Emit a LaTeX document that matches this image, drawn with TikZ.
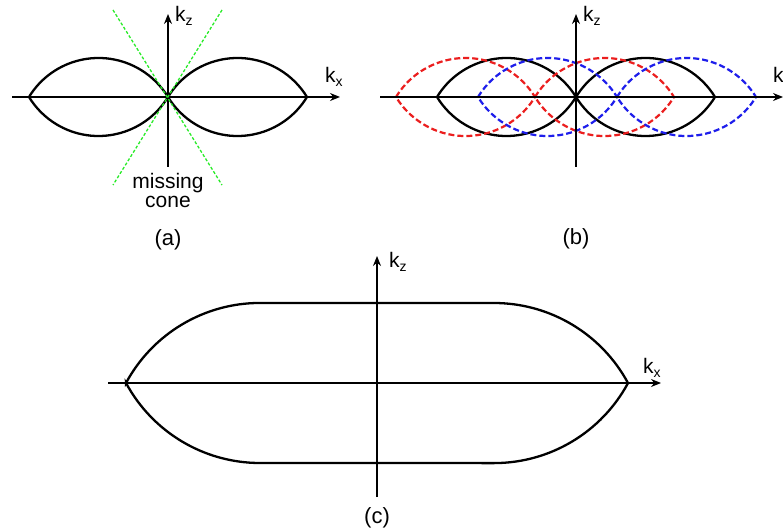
\documentclass[tikz,border=0pt]{standalone}
\usepackage{fontspec}
\setmainfont{Liberation Sans}
\usetikzlibrary{arrows.meta}
\newcommand\subtxt[1]{\raisebox{-4pt}{\fontsize{14}{14}\selectfont #1}}
\definecolor{cgreen}{RGB}{40,235,40}
\definecolor{cred}{RGB}{235,30,30}
\definecolor{cblue}{RGB}{30,30,235}
\tikzset{
  axis/.style={line width=1.4pt,-{Stealth[length=10pt,width=8pt]}},
  blk/.style={line width=2.3pt,black},
  redl/.style={line width=2.2pt,cred,dash pattern=on 6pt off 3pt},
  bluel/.style={line width=2.2pt,cblue,dash pattern=on 6pt off 3pt},
  conel/.style={line width=1.3pt,cgreen,dash pattern=on 3pt off 2pt},
  lbl/.style={inner sep=0pt,anchor=base,font=\fontsize{21}{24}\selectfont},
  captxt/.style={lbl,font=\fontsize{22}{24}\selectfont},
  lobe/.pic={\draw (-69.5,0) arc[start angle=148.6,end angle=31.4,radius=81.42]
                 arc[start angle=-31.4,end angle=-148.6,radius=81.42] -- cycle;},
}
\begin{document}
\begin{tikzpicture}[x=1pt,y=1pt]
\useasboundingbox (0,0) rectangle (783,528);
% ---------------- (a)
\coordinate (ax0) at (12,431); \coordinate (ax1) at (340,431);
\coordinate (az0) at (168,361); \coordinate (az1) at (168,514);
\coordinate (g1) at (113,518); \coordinate (g2) at (222,343);
\coordinate (g3) at (222,518); \coordinate (g4) at (113,343);
\pic[blk] at (98.5,431) {lobe};
\pic[blk] at (237.5,431) {lobe};
\draw[axis] (ax0) -- (ax1);
\draw[axis] (az0) -- (az1);
\draw[conel] (g1) -- (g2);
\draw[conel] (g3) -- (g4);
\node[lbl,anchor=base west] (kza) at (175,506) {k\subtxt{z}};
\node[lbl,anchor=base west] (kxa) at (325,445) {k\subtxt{x}};
\node[lbl] (miss) at (168,339) {missing};
\node[lbl] (conetxt) at (168,320) {cone};
\node[captxt] (la) at (168,283) {(a)};
% ---------------- (b)
\coordinate (bx0) at (380,431); \coordinate (bx1) at (783,431);
\coordinate (bz0) at (576,361); \coordinate (bz1) at (576,514);
\pic[blk] at (506.5,431) {lobe};
\pic[blk] at (645.5,431) {lobe};
\pic[redl] at (465.5,431) {lobe};
\pic[redl] at (604.5,431) {lobe};
\pic[bluel] at (547.5,431) {lobe};
\pic[bluel] at (686.5,431) {lobe};
\draw[axis] (bx0) -- (bx1);
\draw[axis] (bz0) -- (bz1);
\node[lbl,anchor=base west] (kzb) at (583,506) {k\subtxt{z}};
\node[lbl,anchor=base west] (kxb) at (773,445) {k\subtxt{x}};
\node[captxt] (lb) at (576,284) {(b)};
% ---------------- (c)
\coordinate (cx0) at (108,145); \coordinate (cx1) at (661,145);
\coordinate (cz0) at (377,31); \coordinate (cz1) at (377,272);
\draw[blk] (126,145) arc[start angle=151.7,end angle=90,radius=152.2]
  -- (494,225) arc[start angle=90,end angle=28.3,radius=152.2]
  arc[start angle=-28.3,end angle=-90,radius=152.2]
  -- (260,65) arc[start angle=-90,end angle=-151.7,radius=152.2] -- cycle;
\draw[axis] (cx0) -- (cx1);
\draw[axis] (cz0) -- (cz1);
\node[lbl,anchor=base west] (kzc) at (389,261) {k\subtxt{z}};
\node[lbl,anchor=base west] (kxc) at (643,155) {k\subtxt{x}};
\node[captxt] (lc) at (377,5) {(c)};
\end{tikzpicture}
\end{document}
